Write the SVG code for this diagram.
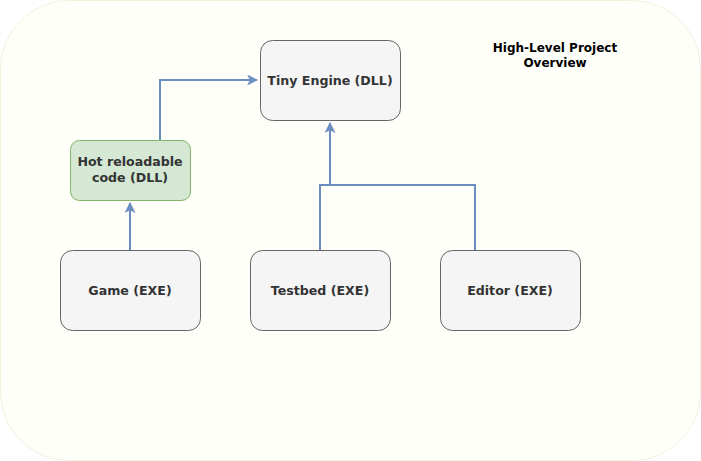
<svg xmlns="http://www.w3.org/2000/svg" width="701" height="461" viewBox="0 0 701 461">
<style>
.bg{fill:#fffffa;stroke:#f4f1dc;stroke-width:1}
.n{fill:#f5f5f5;stroke:#666666;stroke-width:1}
.g{fill:#d5e8d4;stroke:#82b366;stroke-width:1}
.t{font-family:"DejaVu Sans",Verdana,sans-serif;font-size:12.6px;font-weight:bold;fill:#333333;text-anchor:middle}
.tt{font-family:"DejaVu Sans",Verdana,sans-serif;font-size:12px;font-weight:bold;fill:#000000;text-anchor:middle}
.c{fill:none;stroke:#6c8ebf;stroke-width:2}
</style>
<defs>
<marker id="a" viewBox="0 0 10 10" refX="9" refY="5" markerWidth="5.5" markerHeight="5.5" orient="auto" markerUnits="strokeWidth">
<path d="M0,0 L10,5 L0,10 L2.5,5 Z" fill="#6c8ebf"/>
</marker>
</defs>
<rect class="bg" x="0.5" y="0.5" width="700" height="460" rx="69" ry="69"/>
<g id="title">
<text class="tt" x="555" y="52">High-Level Project</text>
<text class="tt" x="555" y="67">Overview</text>
</g>
<g id="connectors">
<path class="c" d="M160,140 L160,80 L257,80" marker-end="url(#a)"/>
<path class="c" d="M130,250 L130,203" marker-end="url(#a)"/>
<path class="c" d="M320,250 L320,185 L330,185 L330,123" marker-end="url(#a)"/>
<path class="c" d="M475,250 L475,185 L330,185"/>
</g>
<g id="tiny-engine">
<rect class="n" x="260.5" y="40.5" width="140" height="80" rx="12"/>
<text class="t" x="330" y="85">Tiny Engine (DLL)</text>
</g>
<g id="hot-reload">
<rect class="g" x="70.5" y="140.5" width="120" height="60" rx="9"/>
<text class="t" x="130" y="166">Hot reloadable</text>
<text class="t" x="130" y="182">code (DLL)</text>
</g>
<g id="game">
<rect class="n" x="60.5" y="250.5" width="140" height="80" rx="12"/>
<text class="t" x="130" y="295">Game (EXE)</text>
</g>
<g id="testbed">
<rect class="n" x="250.5" y="250.5" width="140" height="80" rx="12"/>
<text class="t" x="320" y="295">Testbed (EXE)</text>
</g>
<g id="editor">
<rect class="n" x="440.5" y="250.5" width="140" height="80" rx="12"/>
<text class="t" x="510" y="295">Editor (EXE)</text>
</g>
</svg>
